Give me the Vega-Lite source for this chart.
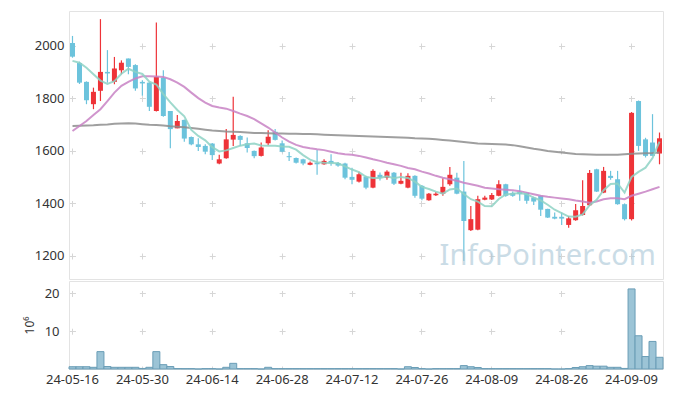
{
  "$schema": "https://vega.github.io/schema/vega-lite/v6.json",
  "padding": {"left": 22, "top": 10, "right": 0, "bottom": 0},
  "spacing": 0,
  "background": "white",
  "config": {
    "view": {"stroke": "#e3e3e3"},
    "axis": {"labelFont": "Noto Sans", "labelFontSize": 13, "labelColor": "#333333", "titleFont": "Noto Sans", "titleFontSize": 12, "titleFontWeight": "normal", "titleColor": "#333333", "gridColor": "#d6d6d6", "gridWidth": 1, "ticks": false, "domain": false}
  },
  "datasets": {
    "stock": [
      {"date":"24-05-16","open":2011,"high":2038,"low":1955,"close":1959,"volume":0.6,"ma5":1943,"ma20":1676,"ma120":1695},
      {"date":"24-05-17","open":1935,"high":1940,"low":1855,"close":1860,"volume":0.6,"ma5":1936,"ma20":1695,"ma120":1696},
      {"date":"24-05-20","open":1863,"high":1865,"low":1778,"close":1793,"volume":0.6,"ma5":1917,"ma20":1714,"ma120":1697},
      {"date":"24-05-21","open":1778,"high":1841,"low":1759,"close":1825,"volume":0.45,"ma5":1892,"ma20":1737,"ma120":1698},
      {"date":"24-05-22","open":1829,"high":2102,"low":1790,"close":1901,"volume":4.6,"ma5":1868,"ma20":1759,"ma120":1700},
      {"date":"24-05-23","open":1901,"high":1984,"low":1860,"close":1895,"volume":0.65,"ma5":1855,"ma20":1790,"ma120":1701},
      {"date":"24-05-24","open":1863,"high":1958,"low":1854,"close":1914,"volume":0.45,"ma5":1866,"ma20":1822,"ma120":1703},
      {"date":"24-05-27","open":1907,"high":1945,"low":1892,"close":1936,"volume":0.45,"ma5":1894,"ma20":1848,"ma120":1704},
      {"date":"24-05-28","open":1952,"high":1952,"low":1892,"close":1920,"volume":0.45,"ma5":1913,"ma20":1863,"ma120":1705},
      {"date":"24-05-29","open":1927,"high":1930,"low":1829,"close":1838,"volume":0.45,"ma5":1901,"ma20":1876,"ma120":1704},
      {"date":"24-05-30","open":1863,"high":1869,"low":1810,"close":1857,"volume":0.15,"ma5":1893,"ma20":1884,"ma120":1702},
      {"date":"24-05-31","open":1860,"high":1862,"low":1752,"close":1768,"volume":0.45,"ma5":1864,"ma20":1884,"ma120":1700},
      {"date":"24-06-03","open":1752,"high":2089,"low":1750,"close":1882,"volume":4.6,"ma5":1853,"ma20":1883,"ma120":1699},
      {"date":"24-06-04","open":1879,"high":1907,"low":1730,"close":1733,"volume":1.15,"ma5":1816,"ma20":1882,"ma120":1697},
      {"date":"24-06-05","open":1752,"high":1752,"low":1610,"close":1683,"volume":0.65,"ma5":1785,"ma20":1873,"ma120":1694},
      {"date":"24-06-07","open":1686,"high":1737,"low":1686,"close":1714,"volume":0.12,"ma5":1756,"ma20":1860,"ma120":1692},
      {"date":"24-06-10","open":1718,"high":1720,"low":1635,"close":1647,"volume":0.1,"ma5":1732,"ma20":1844,"ma120":1690},
      {"date":"24-06-11","open":1653,"high":1655,"low":1622,"close":1625,"volume":0.1,"ma5":1680,"ma20":1822,"ma120":1687},
      {"date":"24-06-12","open":1625,"high":1648,"low":1600,"close":1615,"volume":0,"ma5":1657,"ma20":1801,"ma120":1684},
      {"date":"24-06-13","open":1619,"high":1625,"low":1587,"close":1597,"volume":0.1,"ma5":1640,"ma20":1784,"ma120":1681},
      {"date":"24-06-14","open":1628,"high":1630,"low":1565,"close":1584,"volume":0.1,"ma5":1614,"ma20":1771,"ma120":1678},
      {"date":"24-06-17","open":1552,"high":1585,"low":1549,"close":1568,"volume":0,"ma5":1598,"ma20":1765,"ma120":1676},
      {"date":"24-06-18","open":1572,"high":1683,"low":1570,"close":1644,"volume":0.45,"ma5":1602,"ma20":1761,"ma120":1674},
      {"date":"24-06-19","open":1643,"high":1806,"low":1619,"close":1661,"volume":1.5,"ma5":1611,"ma20":1752,"ma120":1673},
      {"date":"24-06-20","open":1657,"high":1660,"low":1619,"close":1642,"volume":0.1,"ma5":1620,"ma20":1742,"ma120":1672},
      {"date":"24-06-21","open":1629,"high":1651,"low":1594,"close":1611,"volume":0.1,"ma5":1625,"ma20":1733,"ma120":1670},
      {"date":"24-06-24","open":1600,"high":1602,"low":1572,"close":1580,"volume":0.1,"ma5":1628,"ma20":1721,"ma120":1668},
      {"date":"24-06-25","open":1581,"high":1632,"low":1579,"close":1613,"volume":0,"ma5":1621,"ma20":1705,"ma120":1668},
      {"date":"24-06-26","open":1629,"high":1679,"low":1622,"close":1654,"volume":0.45,"ma5":1620,"ma20":1689,"ma120":1667},
      {"date":"24-06-27","open":1673,"high":1683,"low":1640,"close":1642,"volume":0.1,"ma5":1620,"ma20":1670,"ma120":1666},
      {"date":"24-06-28","open":1629,"high":1640,"low":1595,"close":1597,"volume":0.1,"ma5":1617,"ma20":1651,"ma120":1666},
      {"date":"24-07-01","open":1580,"high":1596,"low":1562,"close":1576,"volume":0.1,"ma5":1616,"ma20":1635,"ma120":1665},
      {"date":"24-07-02","open":1573,"high":1575,"low":1552,"close":1555,"volume":0.1,"ma5":1605,"ma20":1623,"ma120":1665},
      {"date":"24-07-03","open":1568,"high":1570,"low":1545,"close":1552,"volume":0.1,"ma5":1584,"ma20":1615,"ma120":1664},
      {"date":"24-07-04","open":1547,"high":1560,"low":1545,"close":1555,"volume":0.1,"ma5":1567,"ma20":1610,"ma120":1664},
      {"date":"24-07-05","open":1555,"high":1603,"low":1509,"close":1549,"volume":0.1,"ma5":1557,"ma20":1606,"ma120":1663},
      {"date":"24-07-08","open":1549,"high":1568,"low":1547,"close":1562,"volume":0.1,"ma5":1555,"ma20":1603,"ma120":1662},
      {"date":"24-07-09","open":1562,"high":1587,"low":1543,"close":1553,"volume":0.1,"ma5":1554,"ma20":1597,"ma120":1661},
      {"date":"24-07-10","open":1554,"high":1558,"low":1540,"close":1544,"volume":0.1,"ma5":1553,"ma20":1591,"ma120":1660},
      {"date":"24-07-11","open":1552,"high":1555,"low":1492,"close":1498,"volume":0.1,"ma5":1541,"ma20":1587,"ma120":1659},
      {"date":"24-07-12","open":1501,"high":1536,"low":1473,"close":1490,"volume":0.1,"ma5":1529,"ma20":1585,"ma120":1658},
      {"date":"24-07-15","open":1483,"high":1521,"low":1480,"close":1511,"volume":0.1,"ma5":1519,"ma20":1581,"ma120":1657},
      {"date":"24-07-16","open":1502,"high":1505,"low":1454,"close":1460,"volume":0.1,"ma5":1501,"ma20":1575,"ma120":1656},
      {"date":"24-07-17","open":1460,"high":1530,"low":1458,"close":1524,"volume":0.1,"ma5":1497,"ma20":1568,"ma120":1655},
      {"date":"24-07-18","open":1509,"high":1518,"low":1487,"close":1498,"volume":0.1,"ma5":1497,"ma20":1562,"ma120":1654},
      {"date":"24-07-19","open":1498,"high":1526,"low":1490,"close":1521,"volume":0.1,"ma5":1503,"ma20":1555,"ma120":1653},
      {"date":"24-07-22","open":1517,"high":1520,"low":1470,"close":1475,"volume":0.1,"ma5":1496,"ma20":1549,"ma120":1652},
      {"date":"24-07-23","open":1475,"high":1517,"low":1473,"close":1486,"volume":0,"ma5":1501,"ma20":1543,"ma120":1651},
      {"date":"24-07-24","open":1460,"high":1515,"low":1458,"close":1505,"volume":0.6,"ma5":1497,"ma20":1535,"ma120":1650},
      {"date":"24-07-25","open":1505,"high":1507,"low":1422,"close":1429,"volume":0.4,"ma5":1483,"ma20":1530,"ma120":1648},
      {"date":"24-07-26","open":1467,"high":1470,"low":1412,"close":1418,"volume":0.1,"ma5":1463,"ma20":1521,"ma120":1647},
      {"date":"24-07-29","open":1412,"high":1440,"low":1410,"close":1437,"volume":0,"ma5":1455,"ma20":1514,"ma120":1646},
      {"date":"24-07-30","open":1431,"high":1443,"low":1428,"close":1437,"volume":0.1,"ma5":1445,"ma20":1505,"ma120":1644},
      {"date":"24-07-31","open":1437,"high":1496,"low":1429,"close":1463,"volume":0.1,"ma5":1437,"ma20":1498,"ma120":1642},
      {"date":"24-08-01","open":1473,"high":1539,"low":1467,"close":1509,"volume":0.1,"ma5":1453,"ma20":1492,"ma120":1640},
      {"date":"24-08-02","open":1498,"high":1517,"low":1435,"close":1437,"volume":0.1,"ma5":1457,"ma20":1486,"ma120":1637},
      {"date":"24-08-05","open":1445,"high":1562,"low":1181,"close":1333,"volume":0.9,"ma5":1436,"ma20":1479,"ma120":1634},
      {"date":"24-08-06","open":1298,"high":1390,"low":1295,"close":1340,"volume":0.6,"ma5":1416,"ma20":1473,"ma120":1631},
      {"date":"24-08-07","open":1300,"high":1429,"low":1298,"close":1416,"volume":0.4,"ma5":1407,"ma20":1467,"ma120":1628},
      {"date":"24-08-08","open":1414,"high":1429,"low":1412,"close":1422,"volume":0.1,"ma5":1390,"ma20":1460,"ma120":1627},
      {"date":"24-08-09","open":1415,"high":1440,"low":1413,"close":1432,"volume":0.1,"ma5":1389,"ma20":1457,"ma120":1626},
      {"date":"24-08-12","open":1429,"high":1488,"low":1427,"close":1473,"volume":0.1,"ma5":1417,"ma20":1454,"ma120":1625},
      {"date":"24-08-13","open":1473,"high":1475,"low":1425,"close":1429,"volume":0.1,"ma5":1434,"ma20":1452,"ma120":1624},
      {"date":"24-08-14","open":1440,"high":1445,"low":1425,"close":1429,"volume":0.1,"ma5":1437,"ma20":1450,"ma120":1622},
      {"date":"24-08-16","open":1444,"high":1469,"low":1410,"close":1435,"volume":0.1,"ma5":1440,"ma20":1446,"ma120":1618},
      {"date":"24-08-19","open":1440,"high":1442,"low":1399,"close":1410,"volume":0.1,"ma5":1435,"ma20":1441,"ma120":1613},
      {"date":"24-08-20","open":1422,"high":1425,"low":1394,"close":1407,"volume":0.1,"ma5":1422,"ma20":1435,"ma120":1608},
      {"date":"24-08-21","open":1429,"high":1430,"low":1352,"close":1376,"volume":0.1,"ma5":1411,"ma20":1429,"ma120":1604},
      {"date":"24-08-22","open":1379,"high":1380,"low":1344,"close":1346,"volume":0.1,"ma5":1395,"ma20":1425,"ma120":1600},
      {"date":"24-08-23","open":1349,"high":1365,"low":1340,"close":1342,"volume":0,"ma5":1376,"ma20":1422,"ma120":1597},
      {"date":"24-08-26","open":1349,"high":1365,"low":1318,"close":1342,"volume":0,"ma5":1363,"ma20":1419,"ma120":1594},
      {"date":"24-08-27","open":1318,"high":1352,"low":1307,"close":1343,"volume":0.1,"ma5":1350,"ma20":1416,"ma120":1591},
      {"date":"24-08-28","open":1336,"high":1398,"low":1334,"close":1374,"volume":0.4,"ma5":1349,"ma20":1411,"ma120":1588},
      {"date":"24-08-29","open":1356,"high":1488,"low":1354,"close":1390,"volume":0.6,"ma5":1358,"ma20":1407,"ma120":1587},
      {"date":"24-08-30","open":1393,"high":1527,"low":1390,"close":1516,"volume":0.9,"ma5":1393,"ma20":1403,"ma120":1586},
      {"date":"24-09-02","open":1530,"high":1532,"low":1443,"close":1445,"volume":0.75,"ma5":1414,"ma20":1407,"ma120":1585},
      {"date":"24-09-03","open":1441,"high":1539,"low":1439,"close":1524,"volume":0.75,"ma5":1450,"ma20":1416,"ma120":1585},
      {"date":"24-09-04","open":1505,"high":1524,"low":1490,"close":1497,"volume":0.45,"ma5":1474,"ma20":1420,"ma120":1585},
      {"date":"24-09-05","open":1492,"high":1524,"low":1395,"close":1397,"volume":0.45,"ma5":1476,"ma20":1420,"ma120":1585},
      {"date":"24-09-06","open":1397,"high":1400,"low":1335,"close":1340,"volume":0.15,"ma5":1441,"ma20":1416,"ma120":1587},
      {"date":"24-09-09","open":1340,"high":1748,"low":1335,"close":1745,"volume":21.2,"ma5":1501,"ma20":1429,"ma120":1589},
      {"date":"24-09-10","open":1790,"high":1792,"low":1600,"close":1619,"volume":8.8,"ma5":1520,"ma20":1437,"ma120":1590},
      {"date":"24-09-11","open":1644,"high":1650,"low":1575,"close":1581,"volume":3.3,"ma5":1536,"ma20":1445,"ma120":1591},
      {"date":"24-09-12","open":1632,"high":1740,"low":1581,"close":1581,"volume":7.3,"ma5":1573,"ma20":1454,"ma120":1592},
      {"date":"24-09-13","open":1590,"high":1670,"low":1549,"close":1648,"volume":3.1,"ma5":1635,"ma20":1463,"ma120":1594}
    ]
  },
  "vconcat": [
    {
      "width": 594,
      "height": 268,
      "data": {"name": "stock"},
      "encoding": {
        "x": {
          "field": "date", "type": "ordinal",
          "scale": {"paddingInner": 0, "paddingOuter": 0},
          "axis": {"labels": false, "title": null, "grid": true, "bandPosition": 0.5,
            "values": ["24-05-16","24-05-30","24-06-14","24-06-28","24-07-12","24-07-26","24-08-09","24-08-26","24-09-09"],
            "gridDash": [6, 46.5], "gridDashOffset": 20.5}
        }
      },
      "layer": [
        {
          "mark": {"type": "rule", "strokeWidth": 1.2},
          "encoding": {
            "y": {"field": "low", "type": "quantitative",
              "scale": {"domain": [1112, 2133], "zero": false, "nice": false},
              "axis": {"title": null, "format": "d", "values": [1200, 1400, 1600, 1800, 2000], "labelPadding": 5, "grid": true, "gridDash": [6, 63.88], "gridDashOffset": 69.4}},
            "y2": {"field": "high"},
            "color": {"condition": {"test": "datum.close >= datum.open", "value": "#ee3338"}, "value": "#6cc3dc"}
          }
        },
        {
          "mark": {"type": "bar", "size": 5},
          "encoding": {
            "y": {"field": "open", "type": "quantitative"},
            "y2": {"field": "close"},
            "color": {"condition": {"test": "datum.close >= datum.open", "value": "#ee3338"}, "value": "#6cc3dc"}
          }
        },
        {
          "mark": {"type": "line", "color": "#8e8e8e", "strokeWidth": 2, "opacity": 0.85},
          "encoding": {"y": {"field": "ma120", "type": "quantitative"}}
        },
        {
          "mark": {"type": "line", "color": "#c883c4", "strokeWidth": 2, "opacity": 0.85},
          "encoding": {"y": {"field": "ma20", "type": "quantitative"}}
        },
        {
          "mark": {"type": "line", "color": "#8ed2c4", "strokeWidth": 2, "opacity": 0.85},
          "encoding": {"y": {"field": "ma5", "type": "quantitative"}}
        },
        {
          "data": {"values": [{"mark": "InfoPointer.com", "date": "24-08-22", "price": 1200}]},
          "mark": {"type": "text", "font": "Noto Sans", "fontSize": 29, "color": "#a8c6d6", "opacity": 0.6, "align": "center", "baseline": "middle"},
          "encoding": {
            "y": {"field": "price", "type": "quantitative"},
            "text": {"field": "mark"}
          }
        }
      ]
    },
    {
      "width": 594,
      "height": 88,
      "data": {"name": "stock"},
      "mark": {"type": "bar", "color": "#9cc4d6", "stroke": "#6a9db6", "strokeWidth": 1},
      "encoding": {
        "x": {
          "field": "date", "type": "ordinal",
          "scale": {"paddingInner": 0, "paddingOuter": 0},
          "axis": {"title": null, "labelAngle": 0, "labelPadding": 4, "grid": true, "bandPosition": 0.5,
            "values": ["24-05-16","24-05-30","24-06-14","24-06-28","24-07-12","24-07-26","24-08-09","24-08-26","24-09-09"],
            "gridDash": [6, 31.77], "gridDashOffset": 28.3}
        },
        "y": {
          "field": "volume", "type": "quantitative",
          "scale": {"domain": [0, 23.3], "nice": false},
          "axis": {"title": "10⁶", "values": [10, 20], "labelPadding": 10, "titlePadding": 8, "grid": true, "gridDash": [6, 63.88], "gridDashOffset": 69.4}
        }
      }
    }
  ]
}
